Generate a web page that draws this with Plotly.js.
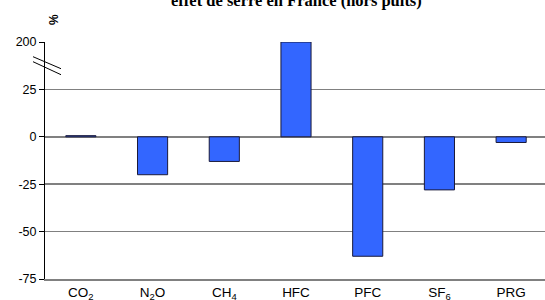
<!DOCTYPE html>
<html>
<head>
<meta charset="utf-8">
<script src="https://cdn.plot.ly/plotly-3.0.1.min.js"></script>
<style>html,body{margin:0;padding:0;overflow:hidden;background:#fff;}#chart{width:547px;height:300px;}</style>
</head>
<body>
<div id="chart"></div>
<script>
// Data
const categories = ['CO<sub>2</sub>', 'N<sub>2</sub>O', 'CH<sub>4</sub>', 'HFC', 'PFC', 'SF<sub>6</sub>', 'PRG'];
const changePct = [0.6, -20, -13, 200, -63, -28, -3];
const tickValues = [-75, -50, -25, 0, 25, 200];
const titleText = 'effet de serre en France (hors puits)';
const unitLabel = '%';

// Broken axis: values above 25 are compressed so that 200 sits one step above 25
const BREAK = 25, TOP = 200, STEP = 25;
function toAxis(v) { return v > BREAK ? BREAK + (v - BREAK) * STEP / (TOP - BREAK) : v; }

const axisY = changePct.map(toAxis);
const tickPos = tickValues.map(toAxis);
const tickText = tickValues.map(String);
const idx = categories.map((_, i) => i);
const dividers = idx.slice(0, -1).map(i => i + 0.5);

const bars = {
  type: 'bar',
  x: categories,
  y: axisY,
  customdata: changePct,
  marker: {color: '#3366FF', line: {color: '#1a1a3a', width: 1}},
  width: 0.42,
  hoverinfo: 'skip'
};

const layout = {
  width: 547, height: 300,
  margin: {l: 45, r: 0, t: 42, b: 21},
  paper_bgcolor: '#fff', plot_bgcolor: '#fff',
  showlegend: false,
  font: {family: 'Liberation Sans, Arial, sans-serif', color: '#000'},
  xaxis: {
    type: 'category',
    range: [-0.5, categories.length - 0.5],
    showgrid: false, zeroline: false,
    showline: true, linecolor: '#808080', linewidth: 1.5,
    ticks: '', tickfont: {size: 13.5, color: '#000'},
    fixedrange: true
  },
  xaxis2: {
    overlaying: 'x', anchor: 'free', position: (0 - (-75)) / (toAxis(TOP) - (-75)),
    type: 'linear', range: [-0.5, categories.length - 0.5],
    tickmode: 'array', tickvals: dividers, showticklabels: false,
    ticks: 'outside', ticklen: 5, tickcolor: '#000', tickwidth: 1,
    showgrid: false, zeroline: false, showline: false
  },
  yaxis: {
    range: [-75, toAxis(TOP)],
    tickmode: 'array', tickvals: tickPos, ticktext: tickText,
    tickfont: {size: 12.5, color: '#000'},
    ticks: 'outside', ticklen: 5, tickcolor: '#000', tickwidth: 1,
    showgrid: true, gridcolor: '#808080', gridwidth: 1.5,
    zeroline: true, zerolinecolor: '#808080', zerolinewidth: 1.5,
    showline: true, linecolor: '#000', linewidth: 1,
    fixedrange: true
  },
  annotations: [
    {text: '<b>' + titleText + '</b>', xref: 'paper', yref: 'paper', x: 0.5, y: 1,
     xanchor: 'center', yanchor: 'bottom', yshift: 30, showarrow: false,
     font: {family: 'Liberation Serif, Times New Roman, serif', size: 16.5, color: '#000'}},
    {text: '<b>' + unitLabel + '</b>', xref: 'paper', yref: 'paper', x: 0, y: 1,
     xanchor: 'center', yanchor: 'middle', xshift: 9, yshift: 22, textangle: -90, showarrow: false,
     font: {size: 12, color: '#000'}}
  ],
  shapes: [
    {type: 'line', xref: 'paper', xsizemode: 'pixel', xanchor: 0, x0: -12, x1: 16,
     yref: 'y', ysizemode: 'pixel', yanchor: (BREAK + toAxis(TOP)) / 2, y0: 9, y1: -3,
     line: {color: '#000', width: 1}},
    {type: 'line', xref: 'paper', xsizemode: 'pixel', xanchor: 0, x0: -12, x1: 16,
     yref: 'y', ysizemode: 'pixel', yanchor: (BREAK + toAxis(TOP)) / 2, y0: 4, y1: -9,
     line: {color: '#000', width: 1}}
  ]
};

Plotly.newPlot('chart', [bars], layout, {staticPlot: true, displayModeBar: false});
</script>
</body>
</html>
